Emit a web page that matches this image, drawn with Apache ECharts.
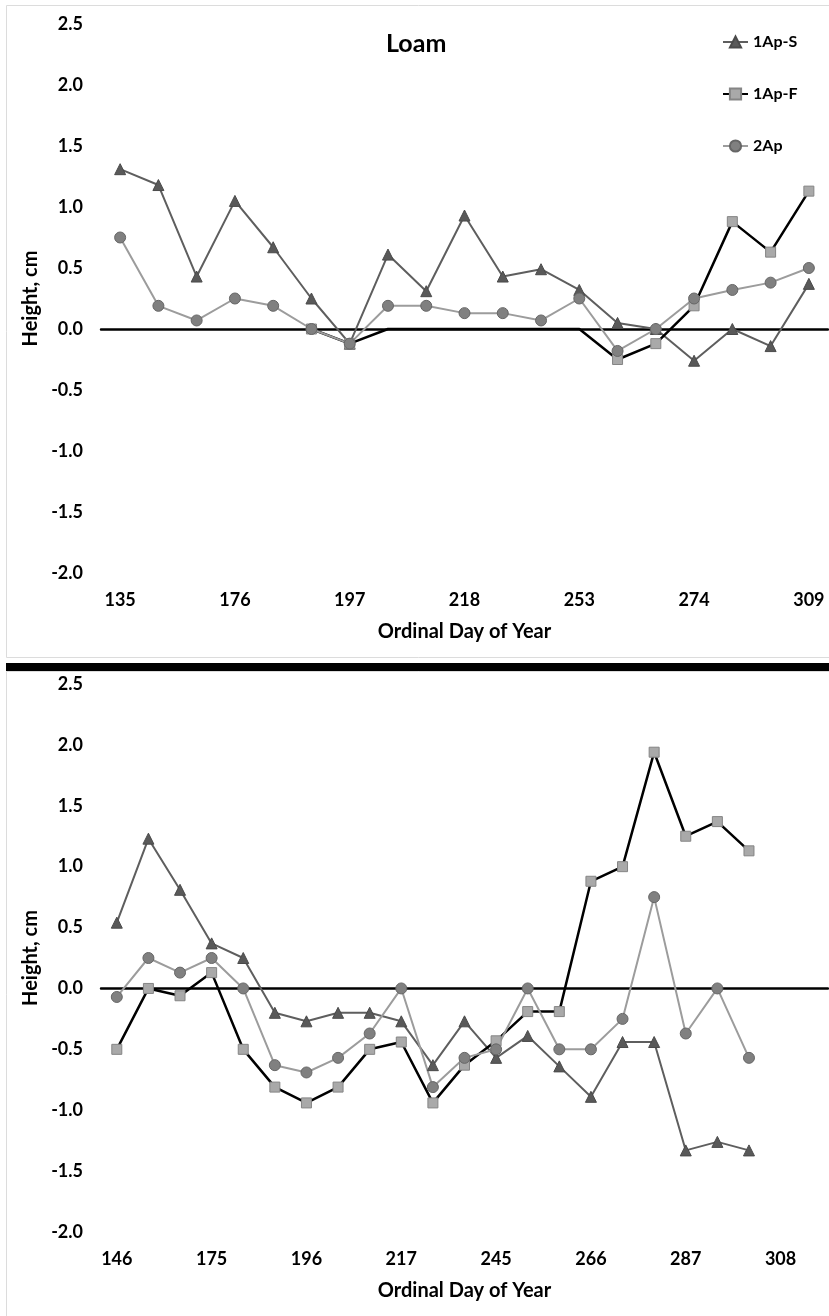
<!DOCTYPE html>
<html>
<head>
<meta charset="utf-8">
<title>Loam – height by ordinal day</title>
<script src="https://cdn.jsdelivr.net/npm/echarts@6/dist/echarts.min.js"></script>
<style>
  html, body { margin: 0; padding: 0; background: #fff; }
  #chart { width: 829px; height: 1316px; }
</style>
</head>
<body>
<div id="chart"></div>
<script>
// Upper panel: ordinal days (every third one is labelled)
const topDays = ['135','149','162','176','183','190','197','204','211','218','230','241','253','260','267','274','286','297','309'];
const topS  = [1.31, 1.18, 0.43, 1.05, 0.67, 0.25, -0.12, 0.61, 0.31, 0.93, 0.43, 0.49, 0.32, 0.05, 0.00, -0.26, 0.00, -0.14, 0.37];
const topF  = [null, null, null, null, null, 0.00, -0.12, 0.00, 0.00, 0.00, 0.00, 0.00, 0.00, -0.25, -0.12, 0.19, 0.88, 0.63, 1.13];
const top2  = [0.75, 0.19, 0.07, 0.25, 0.19, 0.00, -0.12, 0.19, 0.19, 0.13, 0.13, 0.07, 0.25, -0.18, 0.00, 0.25, 0.32, 0.38, 0.50];
// 1Ap-F points that run along the zero line without a marker
const topFUnmarked = [7, 8, 9, 10, 11, 12];

// Lower panel
const botDays = ['146','155','165','175','182','189','196','203','210','217','226','236','245','252','259','266','273','280','287','294','301','308','315'];
const botS  = [0.54, 1.23, 0.81, 0.37, 0.25, -0.20, -0.27, -0.20, -0.20, -0.27, -0.63, -0.27, -0.57, -0.39, -0.64, -0.89, -0.44, -0.44, -1.33, -1.26, -1.33, null, null];
const botF  = [-0.50, 0.00, -0.06, 0.13, -0.50, -0.81, -0.94, -0.81, -0.50, -0.44, -0.94, -0.63, -0.43, -0.19, -0.19, 0.88, 1.00, 1.94, 1.25, 1.37, 1.13, null, null];
const bot2  = [-0.07, 0.25, 0.13, 0.25, 0.00, -0.63, -0.69, -0.57, -0.37, 0.00, -0.81, -0.57, -0.50, 0.00, -0.50, -0.50, -0.25, 0.75, -0.37, 0.00, -0.57, null, null];

const seriesNames = ['1Ap-S', '1Ap-F', '2Ap'];

const FONT = 'Lato, "Open Sans", sans-serif';
const tickFont = { color: '#000', fontFamily: FONT, fontWeight: 'bold', fontSize: 18 };
const nameFont = { color: '#000', fontFamily: FONT, fontWeight: 'bold', fontSize: 20 };

const styles = {
  '1Ap-S': { symbol: 'triangle', symbolSize: 11, line: { color: '#5e5e5e', width: 2 }, item: { color: '#595959', borderColor: '#4a4a4a', borderWidth: 1 } },
  '1Ap-F': { symbol: 'rect', symbolSize: 10, line: { color: '#000', width: 2.5 }, item: { color: '#a9a9a9', borderColor: '#858585', borderWidth: 1 } },
  '2Ap':   { symbol: 'circle', symbolSize: 11, line: { color: '#9c9c9c', width: 2 }, item: { color: '#808080', borderColor: '#666', borderWidth: 1 } }
};

function makeSeries(name, values, idx, unmarked) {
  const st = styles[name];
  const data = values.map((v, i) =>
    (unmarked && unmarked.includes(i)) ? { value: v, symbol: 'none' } : v);
  return {
    name, type: 'line', xAxisIndex: idx * 2, yAxisIndex: idx,
    data, symbol: st.symbol, symbolSize: st.symbolSize,
    lineStyle: st.line, itemStyle: st.item,
    connectNulls: false, animation: false, z: 3
  };
}

function xAxes(days, gridIndex) {
  return [
    { // labelled category axis along the bottom
      type: 'category', gridIndex, data: days, boundaryGap: true,
      axisLine: { show: false, onZero: false }, axisTick: { show: false },
      axisLabel: Object.assign({ interval: 2, margin: 18 }, tickFont),
      name: 'Ordinal Day of Year', nameLocation: 'middle', nameGap: 49,
      nameTextStyle: nameFont
    },
    { // zero line crossing the value axis
      type: 'category', gridIndex, data: days, boundaryGap: true,
      axisLine: { show: true, onZero: true, lineStyle: { color: '#000', width: 2.5 } },
      axisTick: { show: false }, axisLabel: { show: false }, splitLine: { show: false }
    }
  ];
}

function yAxis(gridIndex) {
  return {
    type: 'value', gridIndex, min: -2, max: 2.5, interval: 0.5,
    axisLine: { show: false }, axisTick: { show: false }, splitLine: { show: false },
    axisLabel: Object.assign({ margin: 18, formatter: v => v.toFixed(1) }, tickFont),
    name: 'Height, cm', nameLocation: 'middle', nameGap: 55, nameRotate: 90,
    nameTextStyle: nameFont
  };
}

const chart = echarts.init(document.getElementById('chart'), null, { renderer: 'canvas' });
chart.setOption({
  animation: false,
  backgroundColor: '#fff',
  title: {
    text: 'Loam', left: 386, top: 31, padding: 0,
    textStyle: { color: '#000', fontFamily: FONT, fontWeight: 'bold', fontSize: 25 }
  },
  legend: {
    data: seriesNames, orient: 'vertical', left: 722, top: 34, padding: 0,
    itemWidth: 25, itemHeight: 14, itemGap: 36,
    textStyle: { color: '#000', fontFamily: FONT, fontWeight: 'bold', fontSize: 16 }
  },
  grid: [
    { left: 101, top: 24, width: 727, height: 549, containLabel: false },
    { left: 101, top: 684, width: 727, height: 548, containLabel: false }
  ],
  xAxis: [...xAxes(topDays, 0), ...xAxes(botDays, 1)],
  yAxis: [yAxis(0), yAxis(1)],
  series: [
    makeSeries('1Ap-S', topS, 0),
    makeSeries('1Ap-F', topF, 0, topFUnmarked),
    makeSeries('2Ap', top2, 0),
    makeSeries('1Ap-S', botS, 1),
    makeSeries('1Ap-F', botF, 1),
    makeSeries('2Ap', bot2, 1)
  ],
  graphic: [
    { type: 'rect', shape: { x: 6.5, y: 5.5, width: 830, height: 652 }, style: { fill: 'none', stroke: '#dcdcdc', lineWidth: 1 }, z: -1 },
    { type: 'rect', shape: { x: 6.5, y: 671.5, width: 830, height: 660 }, style: { fill: 'none', stroke: '#dcdcdc', lineWidth: 1 }, z: -1 },
    { type: 'rect', shape: { x: 6, y: 663, width: 830, height: 8 }, style: { fill: '#000' }, z: 10 }
  ]
});
</script>
</body>
</html>
